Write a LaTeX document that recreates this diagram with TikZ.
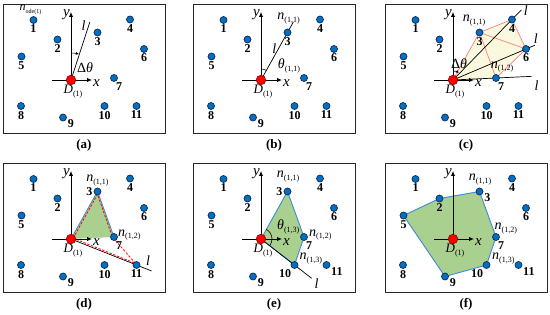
\documentclass[tikz,border=0pt]{standalone}
\usepackage{fontspec}
\setmainfont{Liberation Serif}
\usetikzlibrary{arrows.meta,calc,backgrounds}
\definecolor{siteblue}{RGB}{0,112,192}
\definecolor{sitenavy}{RGB}{20,40,90}
\definecolor{hullgreen}{RGB}{169,208,142}
\definecolor{hullblue}{RGB}{60,140,210}
\definecolor{fanyellow}{RGB}{250,248,222}
\definecolor{fanred}{RGB}{245,130,130}
\newcommand{\lsub}[2][8]{\raisebox{-0.2em}{\fontsize{#1}{#1}\selectfont\upshape #2}}
\tikzset{
  site/.style={circle,draw=sitenavy,fill=siteblue,line width=0.7pt,inner sep=0pt,
    minimum size=7pt,label distance=1.8pt},
  origin/.style={circle,draw=red!60!black,fill=red,line width=0.6pt,inner sep=0pt,
    minimum size=9.6pt},
  numlabel/.style={font=\fontsize{12}{13}\selectfont\bfseries,inner sep=1pt},
  mathlabel/.style={font=\fontsize{14}{15}\selectfont\itshape,inner sep=1pt},
  axislabel/.style={font=\fontsize{15}{16}\selectfont\itshape,inner sep=0pt},
  dlabel/.style={font=\fontsize{13}{14}\selectfont\itshape,inner sep=1pt},
  panelframe/.style={draw=black!85,line width=0.9pt},
  axisarrow/.style={-{Latex[length=5pt,width=4.5pt]},line width=0.9pt},
  anglearrow/.style={-{Latex[length=3pt,width=3pt]},line width=0.6pt},
  rayline/.style={line width=0.7pt},
  hull/.style={fill=hullgreen,draw=hullblue,line width=0.9pt,line join=round},
  checkline/.style={red,line width=0.8pt,dash pattern=on 2.5pt off 1.5pt},
  caption/.style={font=\fontsize{13}{14}\selectfont\bfseries}
}
% the eleven sites and the origin of one panel
% #1 prefix, #2 #3 #4 label places of 3, 10 and 11
\newcommand{\sitenodes}[4]{%
  \foreach \i/\px/\py/\lp in {1/30.5/16/below,2/54.5/35.5/below,3/94.5/28.5/#2,
      4/127/15.5/below,5/18.5/52.5/below,6/141/45/below,7/111/74/-75,
      8/18/102/below,9/60/113.5/-15,10/101.5/102/#3,11/133.5/102/#4}
    \node[site,label/.expanded={[numlabel]\lp:\i}] (#1\i) at (\px,-\py) {};
  \node[origin] (#1D) at (68,-76) {};
  \node[dlabel] (#1Dl) at ($(#1D)+(2,-11.5)$) {D\lsub{(1)}};
}
\newcommand{\drawaxes}[1]{%
  \coordinate (#1xs) at ($(#1D)+(-19,0)$);
  \coordinate (#1xe) at ($(#1D)+(21,0)$);
  \coordinate (#1ye) at ($(#1D)+(0,68)$);
  \draw[axisarrow] (#1xs) -- (#1xe);
  \draw[axisarrow] (#1D.center) -- (#1ye);
  \node[axislabel,anchor=west] (#1x) at ($(#1xe)+(1,-3)$) {x};
  \node[axislabel,anchor=east] (#1y) at ($(#1ye)+(-1,-3)$) {y};
}
\begin{document}
\begin{tikzpicture}[x=1pt,y=1pt]
\useasboundingbox (0,0) rectangle (550,-315);

% (a) direction l turned by the step
\begin{scope}[shift={(3,-4)}]
  \sitenodes{a}{below}{below}{below}
  \node[mathlabel,font=\fontsize{12}{13}\selectfont\itshape] (aid) at ($(a1)+(-3,10)$) {n\lsub[6]{ode(1)}};
  \begin{pgfonlayer}{background}
    \draw[panelframe] (0,0) rectangle (162,-129);
    \drawaxes{a}
    \coordinate (aL) at ($(aD)+(72:61)$);
    \draw[rayline] (aD.center) -- (aL);
    \node[mathlabel] (al) at ($(aD)+(77:56)$) {l};
    \draw[anglearrow] ($(aD)+(90:27)$) arc[start angle=90,end angle=73,radius=27];
    \node[mathlabel] (adt) at ($(aD)+(14,12.7)$) {{\upshape Δ}θ};
  \end{pgfonlayer}
  \node[caption] (capa) at (81,-141) {(a)};
\end{scope}

% (b) first hit
\begin{scope}[shift={(193,-4)}]
  \sitenodes{b}{below}{below}{below}
  \node[mathlabel] (bn1) at ($(b3)+(1,14)$) {n\lsub{(1,1)}};
  \begin{pgfonlayer}{background}
    \draw[panelframe] (0,0) rectangle (162,-129);
    \drawaxes{b}
    \coordinate (bL) at ($(bD)!1.22!(b3)$);
    \draw[rayline] (bD.center) -- (bL);
    \node[mathlabel] (bl) at ($(bD)+(13.3,31.7)$) {l};
    \draw[line width=0.6pt] ($(bD)+(90:11)$) arc[start angle=90,end angle=61,radius=11];
    \node[mathlabel] (bth) at ($(bD)+(28,14)$) {θ\lsub{(1,1)}};
  \end{pgfonlayer}
  \node[caption] (capb) at (81,-141) {(b)};
\end{scope}

% (c) sweep of l
\begin{scope}[shift={(385,-4)}]
  \sitenodes{c}{below}{below}{below}
  \node[mathlabel] (cn1) at ($(c3)+(-5.5,11.6)$) {n\lsub{(1,1)}};
  \node[mathlabel] (cn2) at ($(c7)+(6,11)$) {n\lsub{(1,2)}};
  \begin{pgfonlayer}{background}
    \draw[panelframe] (0,0) rectangle (162,-129);
    \fill[fanyellow] (cD.center) -- (c3.center) -- (c4.center) -- (c6.center) -- (c7.center) -- cycle;
    \draw[fanred,line width=0.7pt] (cD.center) -- (c3.center) -- (c4.center) -- (c6.center) -- (c7.center)
      (c3.center) -- (c6.center) (c3.center) -- (c7.center);
    \drawaxes{c}
    \coordinate (cL4) at ($(cD)!1.16!(c4)$);
    \coordinate (cL6) at ($(cD)!1.12!(c6)$);
    \coordinate (cL7) at ($(cD)!1.83!(c7)$);
    \draw[rayline] (cD.center) -- (cL4);
    \draw[rayline] (cD.center) -- (cL6);
    \draw[rayline] (cD.center) -- (cL7);
    \node[mathlabel] (cl4) at ($(cL4)+(4.5,-1)$) {l};
    \node[mathlabel] (cl6) at ($(cL6)+(1,6.7)$) {l};
    \node[mathlabel] (cl7) at ($(cL7)+(5,-9.3)$) {l};
    \draw[anglearrow] ($(cD)+(90:9)$) arc[start angle=90,end angle=50,radius=9];
    \node[mathlabel] (cdt) at ($(cD)+(6,16)$) {{\upshape Δ}θ};
  \end{pgfonlayer}
  \node[caption] (capc) at (81,-141) {(c)};
\end{scope}

% (d) second hit and check
\begin{scope}[shift={(3,-163)}]
  \sitenodes{d}{left}{below}{below}
  \node[mathlabel] (dn1) at ($(d3)+(0,11)$) {n\lsub{(1,1)}};
  \node[mathlabel,anchor=west] (dn2) at ($(d7)+(3,2)$) {n\lsub{(1,2)}};
  \begin{pgfonlayer}{background}
    \draw[panelframe] (0,0) rectangle (162,-129);
    \fill[hullgreen] (dD.center) -- (d3.center) -- (d7.center) -- cycle;
    \draw[hullblue,line width=0.9pt] (dD.center) -- (d3.center) -- (d7.center);
    \coordinate (dL) at ($(dD)!1.23!(d11)$);
    \draw[rayline] (dD.center) -- (dL);
    \draw[checkline] ($(dD)+(2.2,0.8)$) -- ($(d3)+(0,-2.8)$) -- ($(d7)+(-1.6,0)$)
      -- ($(d11)+(-1,1.6)$) -- cycle;
    \drawaxes{d}
    \node[mathlabel] (dl) at ($(dL)+(-3.4,10.7)$) {l};
  \end{pgfonlayer}
  \node[caption] (capd) at (81,-141) {(d)};
\end{scope}

% (e) third hit
\begin{scope}[shift={(193,-163)}]
  \sitenodes{e}{left}{-124}{-26}
  \node[mathlabel] (en1) at ($(e3)+(0.5,15)$) {n\lsub{(1,1)}};
  \node[mathlabel,anchor=west] (en2) at ($(e7)+(4,2)$) {n\lsub{(1,2)}};
  \node[mathlabel,anchor=west] (en3) at ($(e10)+(4,6.7)$) {n\lsub{(1,3)}};
  \begin{pgfonlayer}{background}
    \draw[panelframe] (0,0) rectangle (162,-129);
    \draw[hull] (eD.center) -- (e3.center) -- (e7.center) -- (e10.center) -- cycle;
    \coordinate (eL) at ($(eD)!1.51!(e10)$);
    \draw[rayline] (eD.center) -- (eL);
    \drawaxes{e}
    \node[mathlabel] (el) at ($(eL)+(5,-5)$) {l};
    \draw[line width=0.6pt] ($(eD)+(61:11)$) arc[start angle=61,end angle=-38,radius=11];
    \node[mathlabel] (eth) at ($(eD)+(27.3,12.3)$) {θ\lsub{(1,3)}};
  \end{pgfonlayer}
  \node[caption] (cape) at (81,-141) {(e)};
\end{scope}

% (f) closed boundary
\begin{scope}[shift={(385,-163)}]
  \sitenodes{f}{-10}{-124}{-26}
  \node[mathlabel] (fn1) at ($(f3)+(0.5,12)$) {n\lsub{(1,1)}};
  \node[mathlabel,anchor=west] (fn2) at ($(f7)+(-2.5,8.7)$) {n\lsub{(1,2)}};
  \node[mathlabel,anchor=west] (fn3) at ($(f10)+(4.5,6.7)$) {n\lsub{(1,3)}};
  \begin{pgfonlayer}{background}
    \draw[panelframe] (0,0) rectangle (162,-129);
    \draw[hull] (f5.center) -- (f2.center) -- (f3.center) -- (f7.center) -- (f10.center) -- (f9.center) -- cycle;
    \drawaxes{f}
  \end{pgfonlayer}
  \node[caption] (capf) at (81,-141) {(f)};
\end{scope}
\end{tikzpicture}
\end{document}
